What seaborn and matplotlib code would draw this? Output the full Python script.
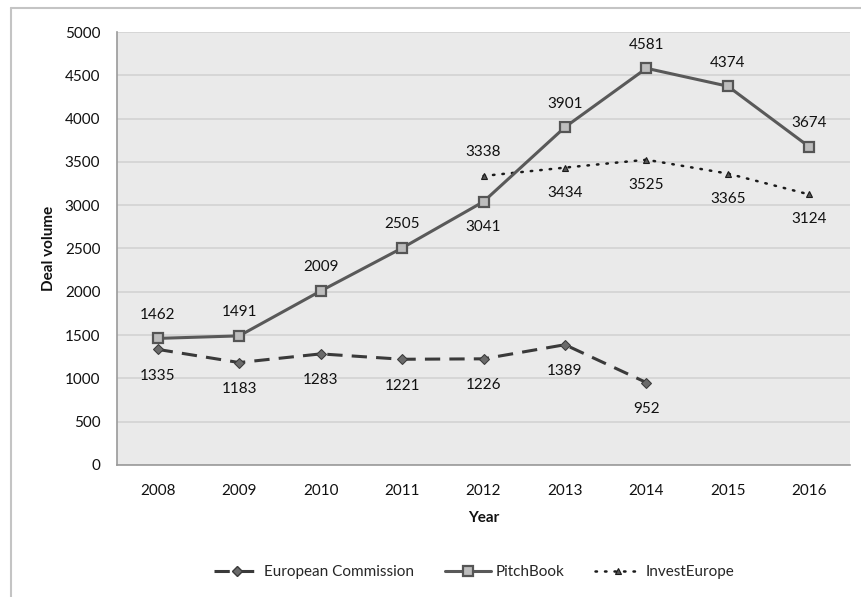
import matplotlib
matplotlib.use("Agg")
import matplotlib.pyplot as plt
from matplotlib.lines import Line2D
import seaborn as sns
import pandas as pd
import numpy as np

# Deal volume by source
years = [2008, 2009, 2010, 2011, 2012, 2013, 2014, 2015, 2016]
european_commission = [1335, 1183, 1283, 1221, 1226, 1389, 952, None, None]
pitchbook = [1462, 1491, 2009, 2505, 3041, 3901, 4581, 4374, 3674]
invest_europe = [None, None, None, None, 3338, 3434, 3525, 3365, 3124]

# label placement: +1 above the point, -1 below
pb_label_side = [1, 1, 1, 1, -1, 1, 1, 1, 1]
ec_label_side = [-1, -1, -1, -1, -1, -1, -1, 0, 0]
ie_label_side = [0, 0, 0, 0, 1, -1, -1, -1, -1]

sns.set_theme(style="white")
plt.rcParams["font.family"] = ["Lato", "DejaVu Sans"]

fig = plt.figure(figsize=(8.62, 5.97), dpi=100)
ax = fig.add_axes([117 / 862, 1 - 465 / 597, (850 - 117) / 862, (465 - 32) / 597])
ax.set_facecolor("#eaeaea")

df = pd.DataFrame({
    "Year": years,
    "European Commission": european_commission,
    "PitchBook": pitchbook,
    "InvestEurope": invest_europe,
})

ec_style = dict(color="#3a3a3a", lw=2.2, linestyle=(0, (5, 3)), marker="D",
                markersize=5, markeredgecolor="#3a3a3a", markerfacecolor="#6a6a6a")
pb_style = dict(color="#595959", lw=2.2, marker="s", markersize=7.5,
                markerfacecolor="#bdbdbd", markeredgecolor="#555555",
                markeredgewidth=1.6)
ie_style = dict(color="#1a1a1a", lw=1.8, linestyle=(0, (0.6, 3.2)),
                dash_capstyle="round", marker="^", markersize=5,
                markerfacecolor="#555555", markeredgecolor="#1a1a1a",
                markeredgewidth=0.8)

sns.lineplot(data=df, x="Year", y="European Commission", ax=ax, zorder=3, **ec_style)
sns.lineplot(data=df, x="Year", y="PitchBook", ax=ax, zorder=4, **pb_style)
sns.lineplot(data=df, x="Year", y="InvestEurope", ax=ax, zorder=3, **ie_style)

ax.set_xlim(2007.5, 2016.5)
ax.set_ylim(0, 5000)
ax.set_yticks(np.arange(0, 5001, 500))
ax.set_yticklabels([str(v) for v in range(0, 5001, 500)], fontsize=11, color="#111111")
ax.set_xticks(years)
ax.set_xticklabels([str(y) for y in years], fontsize=11, color="#111111")
ax.set_xticks(np.arange(2007.5, 2016.6, 1), minor=True)
ax.tick_params(axis="x", which="major", length=0, pad=14)
ax.tick_params(axis="x", which="minor", length=5, direction="in", color="#9a9a9a", width=1)
ax.tick_params(axis="y", length=0, pad=12)
ax.yaxis.grid(True, color="#d2d2d2", lw=1.2)
ax.set_axisbelow(True)

for side in ["top", "right"]:
    ax.spines[side].set_visible(False)
for side in ["left", "bottom"]:
    ax.spines[side].set_color("#9a9a9a")
    ax.spines[side].set_linewidth(1.2)

ax.set_xlabel("Year", fontsize=11, fontweight="bold", labelpad=9, color="#111111")
ax.set_ylabel("Deal volume", fontsize=11, fontweight="bold", labelpad=6, color="#111111")


def label_series(values, sides, up, down):
    for x, v, s in zip(years, values, sides):
        if v is None or s == 0:
            continue
        off = up if s > 0 else -down
        ax.annotate(str(v), (x, v), xytext=(0, off), textcoords="offset points",
                    ha="center", va="center", fontsize=11, color="#111111", zorder=6)


label_series(pitchbook, pb_label_side, 17, 18)
label_series(european_commission, ec_label_side, 17, 19)
label_series(invest_europe, ie_label_side, 17, 18)

handles = [Line2D([], [], **ec_style), Line2D([], [], **pb_style), Line2D([], [], **ie_style)]
fig.legend(handles, ["European Commission", "PitchBook", "InvestEurope"],
           loc="center", bbox_to_anchor=(474 / 862, 1 - 572 / 597), ncol=3,
           frameon=False, fontsize=11, handlelength=3.0, columnspacing=2.0,
           handletextpad=0.3)

# outer chart frame
fig.add_artist(Line2D([11 / 862, 11 / 862], [0, 1 - 8 / 597], transform=fig.transFigure,
                      color="#c4c4c4", lw=1.5))
fig.add_artist(Line2D([11 / 862, 1], [1 - 8 / 597, 1 - 8 / 597], transform=fig.transFigure,
                      color="#c4c4c4", lw=1.5))

fig.savefig("out.png", dpi=100, facecolor="white")
